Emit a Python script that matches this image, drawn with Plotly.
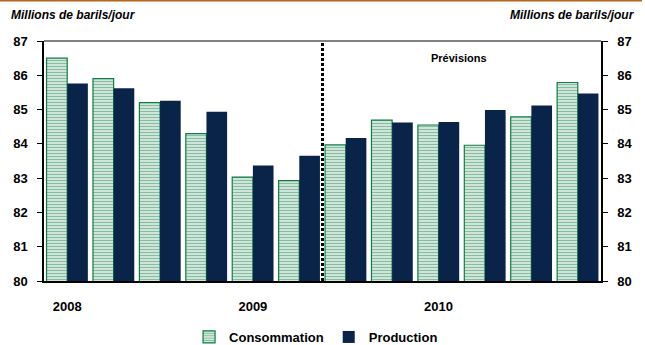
import plotly.graph_objects as go

periods = list(range(12))
year_ticks = [0, 4, 8]
year_labels = ["2008", "2009", "2010"]
consommation = [86.5, 85.9, 85.2, 84.3, 83.03, 82.93, 83.97, 84.69, 84.55, 83.96, 84.79, 85.79]
production = [85.76, 85.62, 85.26, 84.94, 83.37, 83.65, 84.17, 84.62, 84.64, 84.99, 85.12, 85.47]
forecast_start = 5.5

FONT = "Arial, 'Liberation Sans', sans-serif"
GREEN = "#0f7d43"
NAVY = "#0a2348"

fig = go.Figure()
fig.add_trace(go.Bar(
    x=periods, y=consommation, name="<b>Consommation</b>",
    marker=dict(color="white", line=dict(color=GREEN, width=1.2),
                pattern=dict(shape="-", fgcolor=GREEN, bgcolor="white", size=3, solidity=0.6)),
))
fig.add_trace(go.Bar(
    x=periods, y=production, name="<b>Production</b>",
    marker=dict(color=NAVY, line=dict(color=NAVY, width=0)),
))
fig.add_trace(go.Scatter(x=[0], y=[80], yaxis="y2", mode="markers",
                         marker=dict(opacity=0), showlegend=False, hoverinfo="skip"))

fig.update_layout(
    width=645, height=345,
    margin=dict(l=44, r=44, t=41, b=64, autoexpand=False),
    paper_bgcolor="white", plot_bgcolor="white",
    barmode="group", bargap=0.11, bargroupgap=0,
    font=dict(family=FONT, size=12, color="black"),
    showlegend=True,
    legend=dict(orientation="h", x=0.49, xanchor="center", xref="container",
                y=8 / 345, yanchor="middle", yref="container",
                font=dict(size=13, family=FONT), traceorder="normal",
                itemwidth=30, tracegroupgap=0),
    xaxis=dict(range=[-0.5, 11.5], tickvals=year_ticks, ticktext=year_labels,
               showline=True, linecolor="black", linewidth=1.5, showgrid=False,
               ticks="outside", ticklen=13, tickcolor="rgba(0,0,0,0)",
               tickfont=dict(size=13, weight="bold"), zeroline=False),
    yaxis=dict(range=[80, 87], dtick=1, showline=True, linecolor="black", linewidth=1.5,
               showgrid=False, ticks="outside", ticklen=5, tickcolor="black",
               ticklabelstandoff=7, tickfont=dict(size=13, weight="bold"), zeroline=False),
    yaxis2=dict(range=[80, 87], dtick=1, overlaying="y", side="right", showline=True,
                linecolor="black", linewidth=1.5, showgrid=False, ticks="outside",
                ticklen=5, tickcolor="black", ticklabelstandoff=7,
                tickfont=dict(size=13, weight="bold"), zeroline=False),
    shapes=[
        dict(type="line", xref="paper", yref="paper", x0=0, x1=1, y0=1, y1=1,
             line=dict(color="#808080", width=2)),
        dict(type="line", xref="x", yref="paper", x0=forecast_start, x1=forecast_start,
             y0=0, y1=1, line=dict(color="black", width=3, dash="3px,2px")),
        dict(type="line", xref="paper", yref="paper", x0=-44/557, x1=1 + 41/557,
             y0=1 + 40.5/240, y1=1 + 40.5/240, line=dict(color="#b5651d", width=2)),
    ],
    annotations=[
        dict(text="<b><i>Millions de barils/jour</i></b>", xref="paper", yref="paper",
             x=-35/557, y=1 + 26/240, xanchor="left", yanchor="middle", showarrow=False,
             font=dict(size=12)),
        dict(text="<b><i>Millions de barils/jour</i></b>", xref="paper", yref="paper",
             x=1 + 36/557, y=1 + 26/240, xanchor="right", yanchor="middle", showarrow=False,
             font=dict(size=12)),
        dict(text="<b>Prévisions</b>", xref="x", yref="paper", x=8.45, y=1 - 17/240,
             xanchor="center", yanchor="middle", showarrow=False, font=dict(size=11)),
    ],
)

fig.write_html("out.html")
